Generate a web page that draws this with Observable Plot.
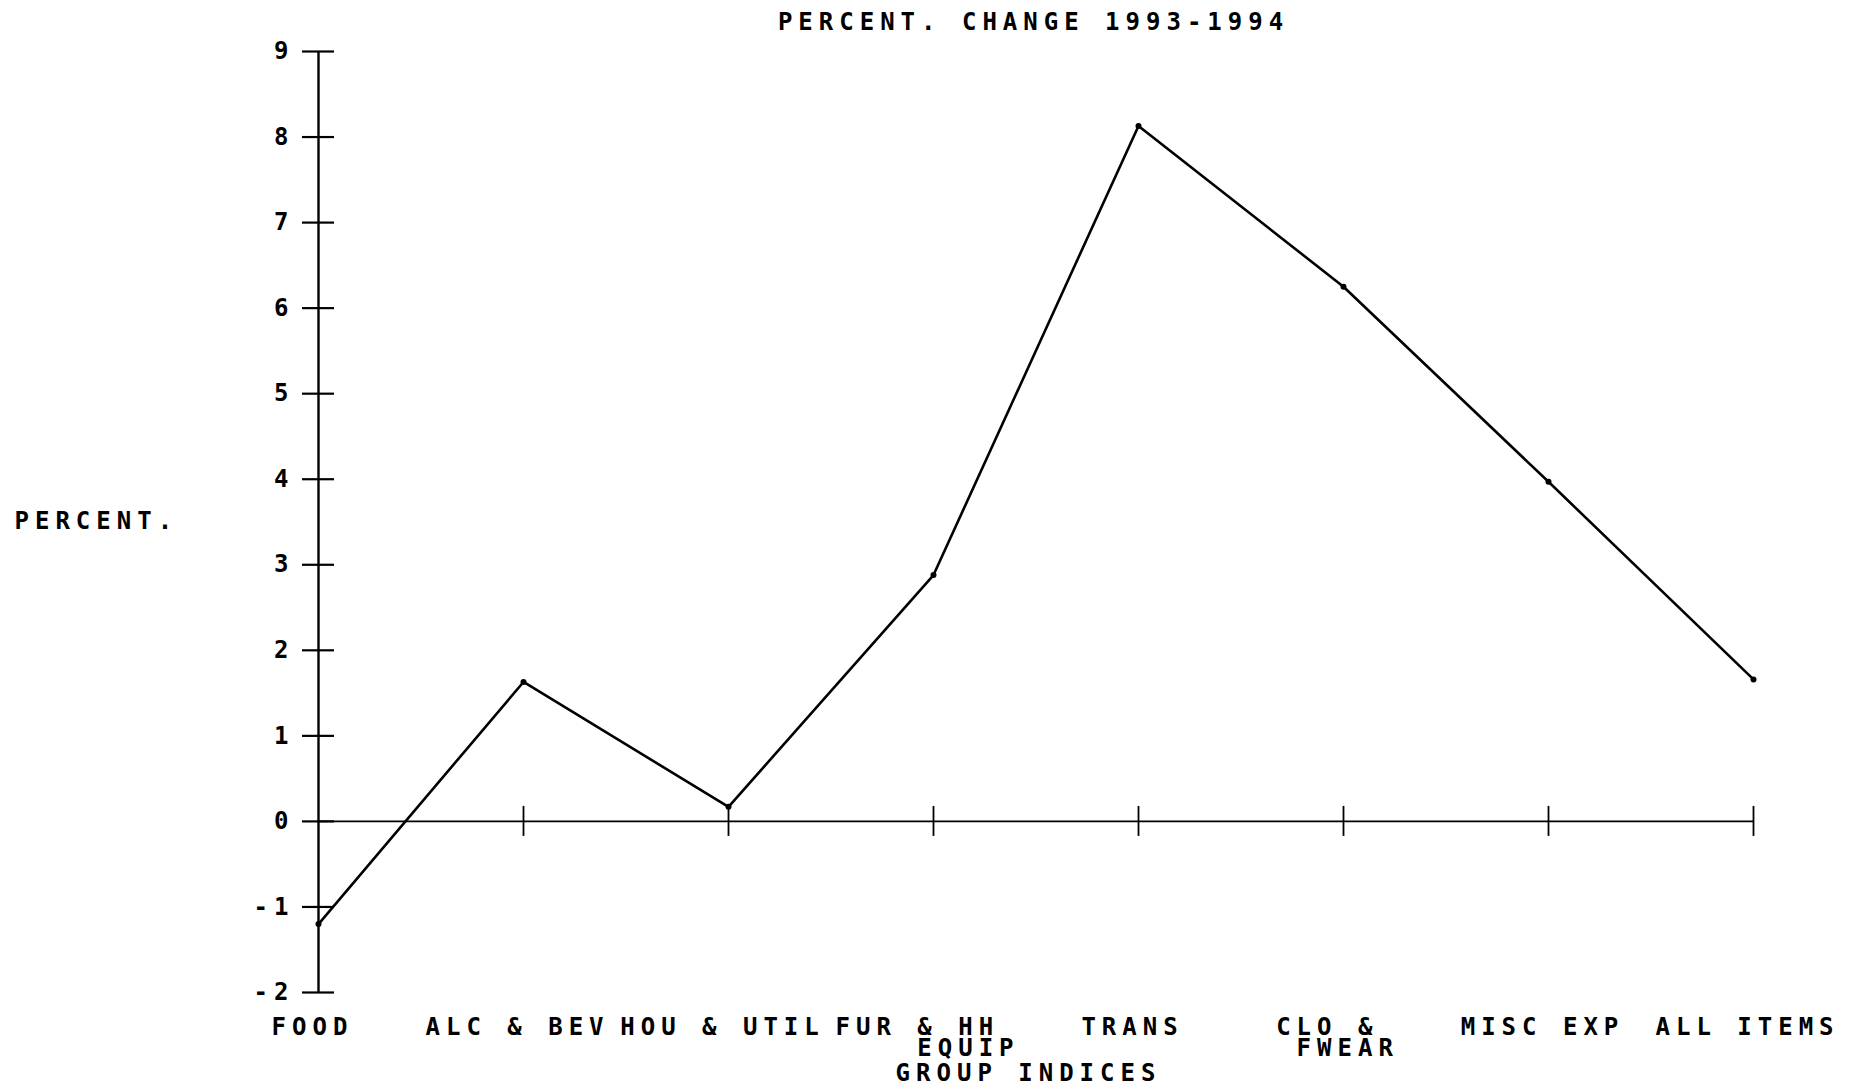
<!DOCTYPE html>
<html>
<head>
<meta charset="utf-8">
<script src="https://cdn.jsdelivr.net/npm/d3@7"></script>
<script src="https://cdn.jsdelivr.net/npm/@observablehq/plot@0.6"></script>
<style>
  html, body { margin: 0; padding: 0; background: #fff; }
</style>
</head>
<body>
<div id="chart"></div>
<script>
// ---- data ----
const categories = ["FOOD", "ALC & BEV", "HOU & UTIL", "FUR & HH EQUIP", "TRANS", "CLO & FWEAR", "MISC EXP", "ALL ITEMS"];
const labelLine1 = ["FOOD", "ALC & BEV", "HOU & UTIL", "FUR & HH ", "TRANS", "CLO & ", "MISC EXP", "ALL ITEMS"];
const labelLine2 = ["", "", "", "    EQUIP", "", " FWEAR", "", ""];
const values = [-1.2, 1.63, 0.17, 2.88, 8.13, 6.25, 3.97, 1.66];
const yTicks = [-2, -1, 0, 1, 2, 3, 4, 5, 6, 7, 8, 9];
const title = "PERCENT. CHANGE 1993-1994";
const yLabel = "PERCENT.";
const xLabel = "GROUP INDICES";

const data = categories.map((c, i) => ({cat: c, value: values[i], l1: labelLine1[i], l2: labelLine2[i]}));
const first = categories[0];
const last = categories[categories.length - 1];

const FS = 24;

const chart = Plot.plot({
  width: 1864,
  height: 1087,
  marginLeft: 316,
  marginRight: 110,
  marginTop: 51,
  marginBottom: 95,
  x: {type: "point", domain: categories, padding: 0, axis: null},
  y: {domain: [d3.min(yTicks), d3.max(yTicks)], axis: null},
  style: {
    fontFamily: "'DejaVu Sans Mono', 'Liberation Mono', monospace",
    fontWeight: "bold",
    fontSize: FS + "px",
    letterSpacing: "6px",
    whiteSpace: "pre",
    background: "#fff",
    color: "#000"
  },
  marks: [
    // zero line
    Plot.ruleY([0], {x1: () => first, x2: () => last, stroke: "#000", strokeWidth: 1.6}),
    // y axis line
    Plot.ruleX([first], {x: d => d, y1: () => d3.min(yTicks), y2: () => d3.max(yTicks), stroke: "#000", strokeWidth: 2.4}),
    // y ticks crossing the axis
    Plot.ruleY(yTicks, {y: d => d, x1: () => first, x2: () => first, insetLeft: -16, insetRight: -16, stroke: "#000", strokeWidth: 2.2}),
    // x ticks crossing the zero line
    Plot.ruleX(categories.slice(1), {x: d => d, y1: () => 0, y2: () => 0, insetTop: -15, insetBottom: -15, stroke: "#000", strokeWidth: 1.8}),
    // data line
    Plot.line(data, {x: "cat", y: "value", stroke: "#000", strokeWidth: 2.6}),
    Plot.dot(data, {x: "cat", y: "value", r: 3, fill: "#000", stroke: null}),
    // y tick labels
    Plot.text(yTicks, {x: () => first, y: d => d, text: d => String(d), textAnchor: "end", dx: -24, fontSize: FS, fill: "#000"}),
    // x labels
    Plot.text(data, {x: "cat", text: "l1", frameAnchor: "bottom", dy: 42, dx: -6, fontSize: FS, fill: "#000"}),
    Plot.text(data, {x: "cat", text: "l2", frameAnchor: "bottom", dy: 63, dx: -6, fontSize: FS, fill: "#000"}),
    // axis title
    Plot.text([xLabel], {text: d => d, frameAnchor: "bottom", dy: 88, dx: -7, fontSize: FS, fill: "#000"}),
    // y label
    Plot.text([yLabel], {text: d => d, frameAnchor: "top-left", textAnchor: "start", dx: -302, dy: 460, fontSize: FS, fill: "#000"}),
    // title
    Plot.text([title], {text: d => d, frameAnchor: "top", dy: -39, dx: -2, fontSize: FS, fill: "#000"})
  ]
});
document.getElementById("chart").appendChild(chart);
</script>
</body>
</html>
